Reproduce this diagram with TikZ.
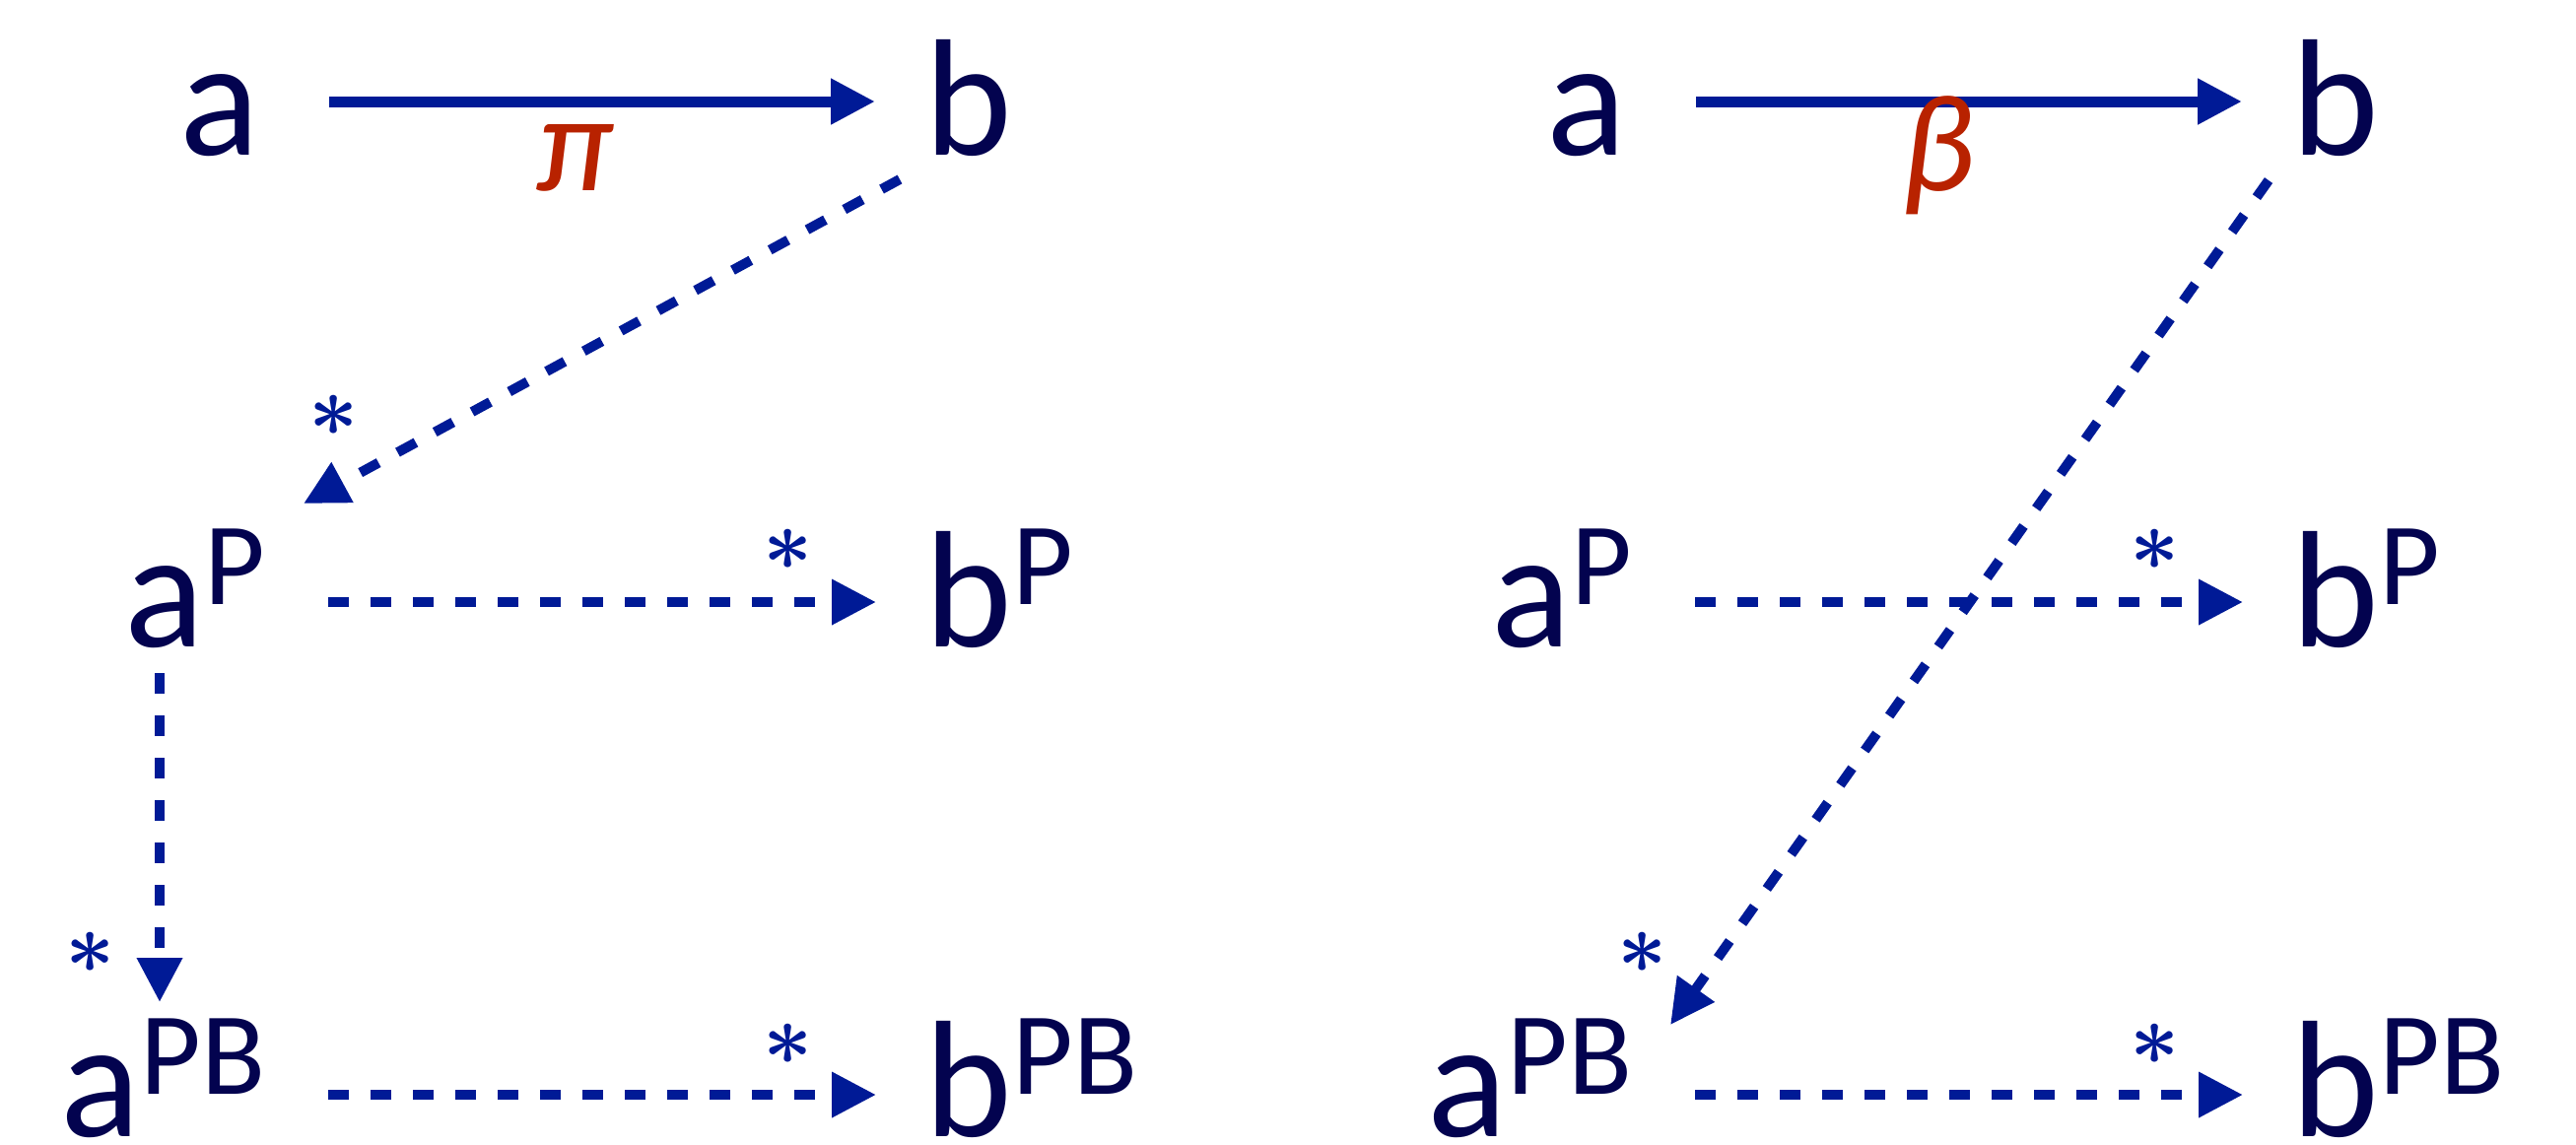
\documentclass[tikz,border=0pt]{standalone}
\usepackage{fontspec}
\setmainfont{Carlito}
\usepackage{tikz}
\usetikzlibrary{arrows.meta,positioning}
\definecolor{ink}{HTML}{03034F}
\definecolor{arrowblue}{HTML}{001A96}
\definecolor{labelred}{HTML}{B82200}
\newcommand\up[1]{\raisebox{4.3mm}{\fontsize{34}{34}\selectfont #1}}
\tikzset{
  term/.style={inner sep=0pt, text=ink, font=\fontsize{48}{48}\selectfont},
  maparrow/.style={-{Triangle[length=4.5mm, width=4.4mm]}, line width=1.1mm, draw=arrowblue},
  dashedmap/.style={-{Triangle[length=4.5mm, width=4.4mm]}, line width=1mm, draw=arrowblue, dash pattern=on 2.1mm off 2.2mm},
  maplabel/.style={inner sep=0pt, anchor=base, text=labelred, font=\fontsize{40}{40}\selectfont\itshape},
  starlabel/.style={inner sep=0pt, text=arrowblue, font=\fontsize{28}{28}\selectfont\boldmath}
}

\begin{document}
\begin{tikzpicture}[x=0.1mm, y=-0.1mm]
  \useasboundingbox (0,0) rectangle (2614,1161);

  % left square
  \node[term, anchor=base east] (aL) at (264,157) {a};
  \node[term, anchor=base west] (bL) at (938,157) {b};
  \node[term, anchor=base east] (aPL) at (270,656) {a\up{P}};
  \node[term, anchor=base west] (bPL) at (938,656) {b\up{P}};
  \node[term, anchor=base east] (aPBL) at (270,1153) {a\up{PB}};
  \node[term, anchor=base west] (bPBL) at (938,1153) {b\up{PB}};

  \draw[maparrow] ([shift={(70,-54)}]aL.base east) -- node[maplabel, shift={(-28,90)}] {π} ([shift={(-50,-54)}]bL.base west);
  \draw[dashedmap] ([shift={(-25,25)}]bL.base west) -- node[starlabel, pos=1, shift={(31,-89)}] {$\ast$} ([shift={(38,-145)}]aPL.base east);
  \draw[dashedmap] ([shift={(63,-45)}]aPL.base east) -- node[starlabel, pos=1, shift={(-89,-53)}] {$\ast$} ([shift={(-49,-45)}]bPL.base west);
  \draw[dashedmap] ([shift={(-108,27)}]aPL.base east) -- node[starlabel, pos=1, shift={(-70,-50)}] {$\ast$} ([shift={(-108,-136)}]aPBL.base east);
  \draw[dashedmap] ([shift={(63,-42)}]aPBL.base east) -- node[starlabel, pos=1, shift={(-89,-51)}] {$\ast$} ([shift={(-49,-42)}]bPBL.base west);

  % right square
  \node[term, anchor=base east] (aR) at (1651,157) {a};
  \node[term, anchor=base west] (bR) at (2325,157) {b};
  \node[term, anchor=base east] (aPR) at (1657,656) {a\up{P}};
  \node[term, anchor=base west] (bPR) at (2325,656) {b\up{P}};
  \node[term, anchor=base east] (aPBR) at (1657,1153) {a\up{PB}};
  \node[term, anchor=base west] (bPBR) at (2325,1153) {b\up{PB}};

  \draw[maparrow] ([shift={(70,-54)}]aR.base east) -- node[maplabel, shift={(-31,90)}] {β} ([shift={(-50,-54)}]bR.base west);
  \draw[dashedmap] ([shift={(-23,26)}]bR.base west) -- node[starlabel, pos=1, shift={(-28,-73)}] {$\ast$} ([shift={(38,-113)}]aPBR.base east);
  \draw[dashedmap] ([shift={(63,-45)}]aPR.base east) -- node[starlabel, pos=1, shift={(-89,-53)}] {$\ast$} ([shift={(-49,-45)}]bPR.base west);
  \draw[dashedmap] ([shift={(63,-42)}]aPBR.base east) -- node[starlabel, pos=1, shift={(-89,-51)}] {$\ast$} ([shift={(-49,-42)}]bPBR.base west);
\end{tikzpicture}
\end{document}
